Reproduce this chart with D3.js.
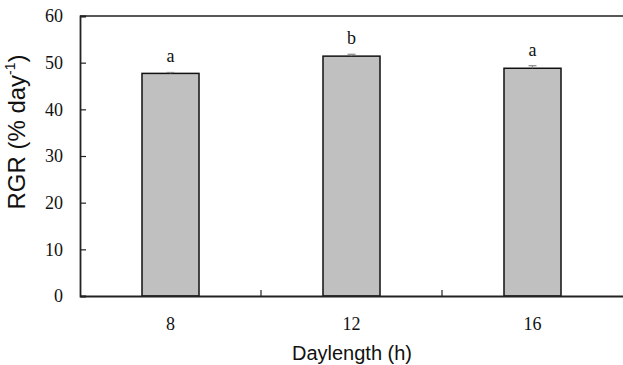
<!DOCTYPE html>
<html><head><meta charset="utf-8">
<script src="https://cdn.jsdelivr.net/npm/d3@7"></script>
<style>body{margin:0;background:#fff}svg{display:block}</style>
</head><body>
<svg id="c" width="623" height="365"></svg>
<script>
const categories = ["8", "12", "16"];
const values = [47.7, 51.4, 48.8];
const errors = [0.2, 0.4, 0.55];
const letters = ["a", "b", "a"];
const yTicks = [0, 10, 20, 30, 40, 50, 60];

const svg = d3.select("#c");
const L = 80, R = 623, T = 16, B = 296;
const x = d3.scaleBand().domain(categories).range([L, R]).padding(0);
const y = d3.scaleLinear().domain([0, 60]).range([B, T]);
const bw = x.bandwidth() * 0.315;

// frame top/right
svg.append("path").attr("d", `M${L},${T}H${R + 2}V${B}`).attr("fill", "none").attr("stroke", "#222").attr("stroke-width", 1.5);

// bars
svg.selectAll("rect.bar").data(values).join("rect").attr("class", "bar")
  .attr("x", (d, i) => x(categories[i]) + x.bandwidth() / 2 - bw / 2)
  .attr("width", bw)
  .attr("y", d => y(d)).attr("height", d => y(0) - y(d))
  .attr("fill", "#c0c0c0").attr("stroke", "#111").attr("stroke-width", 1.5);

// error bars
const eb = svg.append("g").attr("stroke", "#888").attr("stroke-width", 1.2);
values.forEach((v, i) => {
  const cx = x(categories[i]) + x.bandwidth() / 2;
  eb.append("line").attr("x1", cx).attr("x2", cx).attr("y1", y(v)).attr("y2", y(v + errors[i]));
  eb.append("line").attr("x1", cx - 4).attr("x2", cx + 4).attr("y1", y(v + errors[i])).attr("y2", y(v + errors[i]));
});

// letters
svg.selectAll("text.sig").data(letters).join("text").attr("class", "sig")
  .attr("x", (d, i) => x(categories[i]) + x.bandwidth() / 2)
  .attr("y", (d, i) => y(values[i] + errors[i]) - 10)
  .attr("text-anchor", "middle").attr("font-family", "Liberation Serif, Times New Roman, serif")
  .attr("font-size", 18).attr("fill", "#111").text(d => d);

// y axis
const yAxis = d3.axisLeft(y).tickValues(yTicks).tickSize(-6).tickPadding(17).tickFormat(d3.format("d"));
const gy = svg.append("g").attr("transform", `translate(${L},0)`).call(yAxis);
gy.select(".domain").attr("stroke", "#222").attr("stroke-width", 1.8);
gy.selectAll(".tick line").attr("stroke", "#222").attr("stroke-width", 1.2);
gy.selectAll(".tick text").attr("font-family", "Liberation Serif, Times New Roman, serif").attr("font-size", 18).attr("fill", "#111");

// x axis
const xAxis = d3.axisBottom(x).tickSize(0).tickPadding(26);
const gx = svg.append("g").attr("transform", `translate(0,${B})`).call(xAxis);
gx.select(".domain").attr("stroke", "#222").attr("stroke-width", 1.8);
gx.selectAll(".tick text").attr("font-family", "Liberation Serif, Times New Roman, serif").attr("font-size", 18).attr("fill", "#111").attr("dy", "0.45em");
// category separator ticks
categories.slice(1).forEach(c => {
  gx.append("line").attr("x1", x(c)).attr("x2", x(c)).attr("y1", 0).attr("y2", -6).attr("stroke", "#222").attr("stroke-width", 1.2);
});

// titles
svg.append("text").attr("x", (L + R) / 2 + 0.5).attr("y", 360).attr("text-anchor", "middle")
  .attr("font-family", "Liberation Sans, Arial, sans-serif").attr("font-size", 20).attr("fill", "#111").text("Daylength (h)");
const yt = svg.append("text").attr("transform", `translate(25,${(T + B) / 2 - 24}) rotate(-90)`).attr("text-anchor", "middle")
  .attr("font-family", "Liberation Sans, Arial, sans-serif").attr("font-size", 24).attr("fill", "#111");
yt.append("tspan").text("RGR (% day");
yt.append("tspan").attr("font-size", 14).attr("dy", -10).text("-1");
yt.append("tspan").attr("dy", 10).text(")");
</script>
</body></html>
